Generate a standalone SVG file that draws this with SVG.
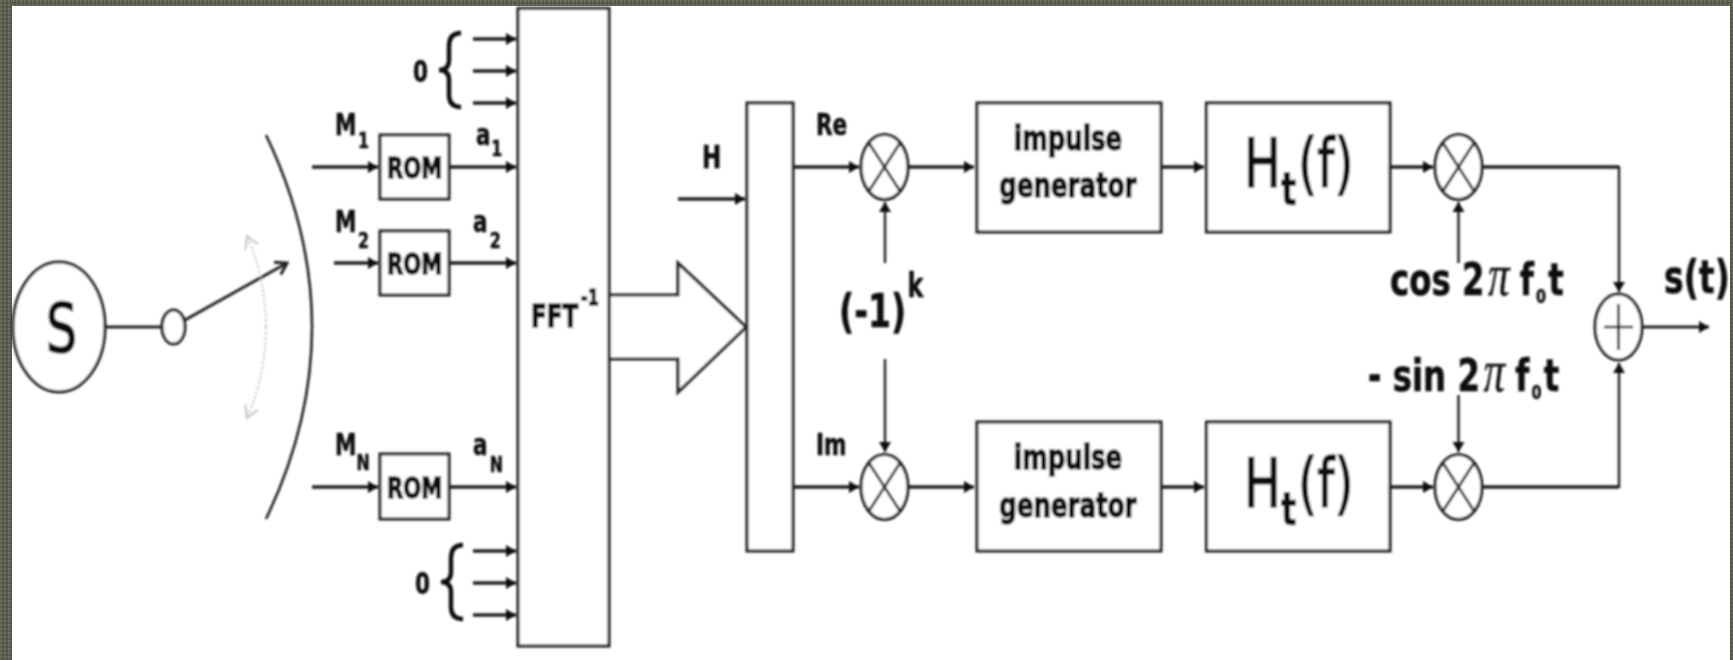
<svg xmlns="http://www.w3.org/2000/svg" width="1733" height="660" viewBox="0 0 1733 660">
<defs>
<pattern id="tex" width="4" height="4" patternUnits="userSpaceOnUse"><rect width="4" height="4" fill="#5c5e4e"/><rect width="2" height="2" fill="#6c6e5e"/><rect x="2" y="2" width="2" height="2" fill="#525446"/></pattern>
<marker id="ah" markerUnits="userSpaceOnUse" markerWidth="12" markerHeight="14" refX="10" refY="6.5" orient="auto"><path d="M0 0.5L10 6.5L0 12.5Z" fill="#111"/></marker>
<marker id="barb" markerUnits="userSpaceOnUse" markerWidth="16" markerHeight="18" refX="13" refY="9" orient="auto"><path d="M2 2L13 9L2 16" fill="none" stroke="#222" stroke-width="3"/></marker>
<marker id="open" markerUnits="userSpaceOnUse" markerWidth="18" markerHeight="18" refX="14" refY="9" orient="auto"><path d="M2 2L14 9L2 16" fill="none" stroke="#c4c4c4" stroke-width="2"/></marker>
<filter id="soft" x="0" y="0" width="100%" height="100%" filterUnits="userSpaceOnUse"><feGaussianBlur stdDeviation="0.8"/></filter>
<style>
.s{fill:none;stroke:#222;stroke-width:3}
.b{fill:#fff;stroke:#222;stroke-width:3.1}
.h{fill:none;stroke:#222;stroke-width:3.6}
.v{fill:none;stroke:#222;stroke-width:2.5}
.x{fill:none;stroke:#222;stroke-width:2.7}
.t{font-family:"DejaVu Sans",sans-serif;font-weight:700;fill:#111;stroke:#111;stroke-width:.6}
.n{stroke-width:1.4}
.r{font-family:"DejaVu Sans",sans-serif;font-weight:400;fill:#111;stroke:#111;stroke-width:1.7}
.p{font-family:"Liberation Serif",serif;font-style:italic;font-weight:400;stroke-width:.3}
</style>
</defs>
<rect width="1733" height="660" fill="url(#tex)"/>
<rect x="12" y="6" width="1718" height="654" fill="#fff"/>
<g filter="url(#soft)">
<g id="connectors">
<path class="s" d="M106 327H162"/>
<path class="s" d="M185 320L287 263" marker-end="url(#barb)"/>
<path fill="none" stroke="#222" stroke-width="2.6" d="M266 135Q358 327 266 519"/>
<path fill="none" stroke="#c4c4c4" stroke-width="1.6" stroke-dasharray="3 2" d="M266 327Q266 280 247 236" marker-end="url(#open)"/>
<path fill="none" stroke="#c4c4c4" stroke-width="1.6" stroke-dasharray="3 2" d="M266 327Q266 374 247 418" marker-end="url(#open)"/>
<path class="h" d="M473 39H516" marker-end="url(#ah)"/>
<path class="h" d="M473 71H516" marker-end="url(#ah)"/>
<path class="h" d="M473 103H516" marker-end="url(#ah)"/>
<path class="h" d="M312 167H378" marker-end="url(#ah)"/>
<path class="h" d="M449 167H516" marker-end="url(#ah)"/>
<path class="h" d="M334 263H378" marker-end="url(#ah)"/>
<path class="h" d="M449 263H516" marker-end="url(#ah)"/>
<path class="h" d="M312 487H378" marker-end="url(#ah)"/>
<path class="h" d="M449 487H516" marker-end="url(#ah)"/>
<path class="h" d="M473 551H516" marker-end="url(#ah)"/>
<path class="h" d="M473 583H516" marker-end="url(#ah)"/>
<path class="h" d="M473 615H516" marker-end="url(#ah)"/>
<path fill="none" stroke="#111" stroke-width="4.4" d="M461 33Q449 33 449 46V60Q449 70 439 70Q449 70 449 80V95Q449 107 461 107"/>
<path fill="none" stroke="#111" stroke-width="4.4" d="M463 545Q451 545 451 558V572Q451 582 441 582Q451 582 451 592V607Q451 619 463 619"/>
<path class="h" d="M678 199H745" marker-end="url(#ah)"/>
<path class="h" d="M793 167H859" marker-end="url(#ah)"/>
<path class="h" d="M793 487H859" marker-end="url(#ah)"/>
<path class="h" d="M908 167H974" marker-end="url(#ah)"/>
<path class="h" d="M908 487H974" marker-end="url(#ah)"/>
<path class="h" d="M1161 167H1204" marker-end="url(#ah)"/>
<path class="h" d="M1161 487H1204" marker-end="url(#ah)"/>
<path class="h" d="M1390 167H1433" marker-end="url(#ah)"/>
<path class="h" d="M1390 487H1433" marker-end="url(#ah)"/>
<path class="v" d="M885 263V202" marker-end="url(#ah)"/>
<path class="v" d="M885 359V452" marker-end="url(#ah)"/>
<path class="v" d="M1458.5 263V202" marker-end="url(#ah)"/>
<path class="v" d="M1458.5 395V452" marker-end="url(#ah)"/>
<path class="h" d="M1482 167H1619"/>
<path class="h" d="M1482 487H1619"/>
<path class="v" d="M1619 166V292" marker-end="url(#ah)"/>
<path class="v" d="M1619 488V363" marker-end="url(#ah)"/>
<path class="s" d="M1642 327H1709" marker-end="url(#ah)"/>
</g>
<g id="source"><ellipse class="b" cx="59" cy="327" rx="46" ry="65"/><text class="r" transform="translate(46 352) scale(.72 1)" font-size="68">S</text></g>
<g id="switch"><ellipse class="b" cx="173.5" cy="327" rx="11.5" ry="17"/></g>
<g id="zero-top"><text class="t" transform="translate(413 82) scale(.72 1)" font-size="30">0</text></g>
<g id="zero-bottom"><text class="t" transform="translate(415 594) scale(.72 1)" font-size="30">0</text></g>
<g id="rom1"><rect class="b" x="380" y="135" width="69" height="64"/><text class="t n" transform="translate(387 178) scale(.73 1)" font-size="29">ROM</text></g>
<g id="rom2"><rect class="b" x="380" y="231" width="69" height="64"/><text class="t n" transform="translate(387 274) scale(.73 1)" font-size="29">ROM</text></g>
<g id="romN"><rect class="b" x="380" y="454" width="69" height="65"/><text class="t n" transform="translate(387 498) scale(.73 1)" font-size="29">ROM</text></g>
<g id="labels-in">
<text class="t" transform="translate(335 135) scale(.72 1)" font-size="30">M<tspan dx="2" dy="13" font-size="22">1</tspan></text>
<text class="t" transform="translate(335 232) scale(.72 1)" font-size="30">M<tspan dx="2" dy="16" font-size="22">2</tspan></text>
<text class="t" transform="translate(335 455) scale(.72 1)" font-size="30">M<tspan dx="0" dy="15" font-size="22">N</tspan></text>
<text class="t" transform="translate(476 145) scale(.72 1)" font-size="30">a<tspan dx="1" dy="11" font-size="22">1</tspan></text>
<text class="t" transform="translate(473 232) scale(.72 1)" font-size="30">a<tspan dx="3" dy="16" font-size="22">2</tspan></text>
<text class="t" transform="translate(473 455) scale(.72 1)" font-size="30">a<tspan dx="3" dy="17" font-size="22">N</tspan></text>
</g>
<g id="fft"><path class="b" d="M609 295H678V263L746 327L678 392V359H609Z"/><rect class="b" x="518" y="8.5" width="91" height="637.5"/><text class="t n" transform="translate(531 327) scale(.72 1)" font-size="32">FFT<tspan dx="4" dy="-22" font-size="22">-1</tspan></text></g>
<g id="pll"><rect class="b" x="747" y="103" width="46" height="448"/></g>
<g id="labels-mid">
<text class="t" transform="translate(702 168) scale(.72 1)" font-size="32">H</text>
<text class="t" transform="translate(816 135) scale(.72 1)" font-size="30">Re</text>
<text class="t" transform="translate(816 455) scale(.72 1)" font-size="30">Im</text>
<text class="t" transform="translate(839 327) scale(.72 1)" font-size="46">(-1)<tspan dx="2" dy="-30" font-size="33">k</tspan></text>
</g>
<g id="mult1"><ellipse class="b" cx="884.5" cy="167" rx="23.5" ry="32.5"/><path class="x" d="M869 143L900 191M900 143L869 191"/></g>
<g id="mult2"><ellipse class="b" cx="884.5" cy="487" rx="23.5" ry="32.5"/><path class="x" d="M869 463L900 511M900 463L869 511"/></g>
<g id="gen1"><rect class="b" x="977" y="103" width="184" height="129"/><text class="t n" text-anchor="middle" transform="translate(1068 150) scale(.72 1)" font-size="34">impulse</text><text class="t n" text-anchor="middle" transform="translate(1068 197) scale(.72 1)" font-size="34">generator</text></g>
<g id="gen2"><rect class="b" x="977" y="422" width="184" height="129"/><text class="t n" text-anchor="middle" transform="translate(1068 469) scale(.72 1)" font-size="34">impulse</text><text class="t n" text-anchor="middle" transform="translate(1068 517) scale(.72 1)" font-size="34">generator</text></g>
<g id="ht1"><rect class="b" x="1206.5" y="103" width="183.5" height="129"/><text class="r" transform="translate(1244 187) scale(.72 1)" font-size="68">H<tspan class="t" dy="18" font-size="46">t</tspan><tspan dy="-18" dx="2">(f)</tspan></text></g>
<g id="ht2"><rect class="b" x="1206.5" y="422" width="183.5" height="129"/><text class="r" transform="translate(1244 507) scale(.72 1)" font-size="68">H<tspan class="t" dy="18" font-size="46">t</tspan><tspan dy="-18" dx="2">(f)</tspan></text></g>
<g id="mult3"><ellipse class="b" cx="1458.5" cy="167" rx="23.5" ry="32.5"/><path class="x" d="M1443 143L1474 191M1474 143L1443 191"/></g>
<g id="mult4"><ellipse class="b" cx="1458.5" cy="487" rx="23.5" ry="32.5"/><path class="x" d="M1443 463L1474 511M1474 463L1443 511"/></g>
<g id="sum"><ellipse class="b" cx="1618.5" cy="327" rx="23.5" ry="33"/><path class="x" d="M1604 327H1633M1618.5 304V350"/></g>
<g id="labels-right">
<text class="t" transform="translate(1390 295) scale(.72 1)" font-size="45">cos 2<tspan class="p" dx="5" font-size="60">π</tspan><tspan dx="14">f</tspan><tspan dy="8" dx="3" font-size="20">0</tspan><tspan dy="-8" dx="3">t</tspan></text>
<text class="t" transform="translate(1368 391) scale(.72 1)" font-size="45">- sin 2<tspan class="p" dx="5" font-size="60">π</tspan><tspan dx="14">f</tspan><tspan dy="8" dx="3" font-size="20">0</tspan><tspan dy="-8" dx="3">t</tspan></text>
<text class="t" transform="translate(1664 293) scale(.72 1)" font-size="46">s(t)</text>
</g>
</g>
</svg>
